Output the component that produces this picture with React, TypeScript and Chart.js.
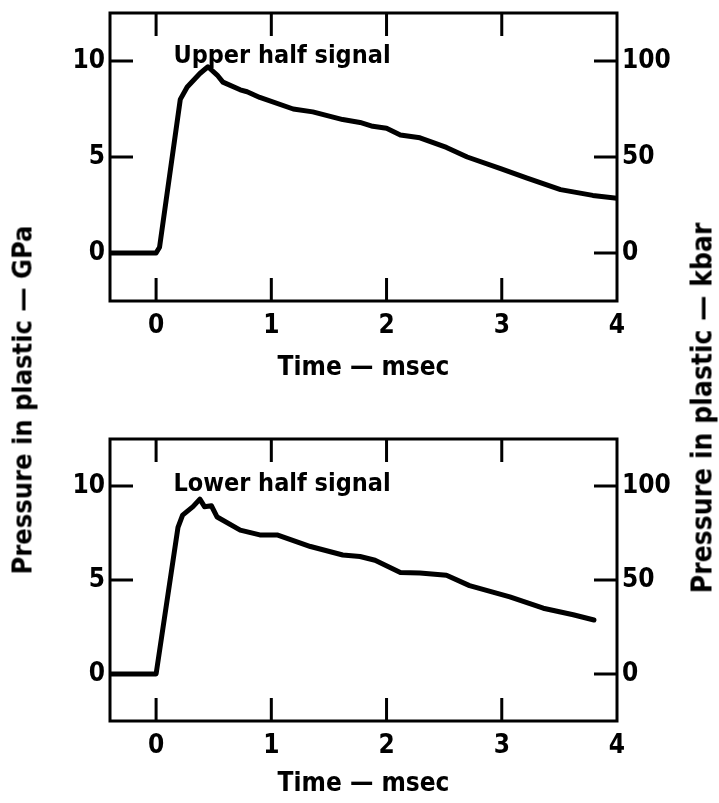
import React, { useEffect, useRef } from 'react';
import { Chart, registerables } from 'chart.js';

Chart.register(...registerables);

// ---- data ----
const upperTime = [-0.4, 0, 0.03, 0.21, 0.27, 0.38, 0.45, 0.53, 0.58, 0.73, 0.79, 0.9, 1.19, 1.36, 1.62, 1.77, 1.88, 2.0, 2.12, 2.29, 2.52, 2.7, 2.99, 3.22, 3.51, 3.79, 4.0];
const upperGPa = [0, 0, 0.3, 8.0, 8.65, 9.35, 9.7, 9.27, 8.9, 8.5, 8.4, 8.1, 7.5, 7.35, 6.95, 6.8, 6.6, 6.5, 6.15, 6.0, 5.5, 5.0, 4.4, 3.9, 3.3, 3.0, 2.85];

const lowerTime = [-0.4, 0, 0.19, 0.23, 0.32, 0.38, 0.42, 0.48, 0.53, 0.73, 0.9, 1.05, 1.34, 1.62, 1.77, 1.9, 2.12, 2.29, 2.52, 2.72, 3.07, 3.36, 3.62, 3.8];
const lowerGPa = [0, 0, 7.8, 8.45, 8.9, 9.3, 8.9, 8.95, 8.35, 7.65, 7.4, 7.4, 6.78, 6.33, 6.25, 6.05, 5.4, 5.37, 5.25, 4.7, 4.1, 3.5, 3.15, 2.87];

const timeTicks = [0, 1, 2, 3, 4];
const gpaTicks = [0, 5, 10];
const kbarTicks = [0, 50, 100];

const upperLabel = 'Upper half signal';
const lowerLabel = 'Lower half signal';
const xTitle = 'Time — msec';
const leftTitle = 'Pressure in plastic — GPa';
const rightTitle = 'Pressure in plastic — kbar';

const FONT = "'Liberation Sans Narrow', 'DejaVu Sans Condensed', 'DejaVu Sans', sans-serif";

const framePlugin = {
  id: 'frameTicks',
  afterDraw(chart: any, _args: any, opts: any) {
    const { ctx, chartArea: a, scales } = chart;
    const x = scales.x, y = scales.y, y2 = scales.y2;
    ctx.save();
    ctx.strokeStyle = '#000';
    ctx.lineWidth = 3;
    ctx.strokeRect(a.left, a.top, a.right - a.left, a.bottom - a.top);
    const L = 23;
    ctx.beginPath();
    timeTicks.forEach((t) => {
      if (t >= x.max) return;
      const px = x.getPixelForValue(t);
      ctx.moveTo(px, a.bottom);
      ctx.lineTo(px, a.bottom - L);
      ctx.moveTo(px, a.top);
      ctx.lineTo(px, a.top + L);
    });
    gpaTicks.forEach((v) => {
      const py = y.getPixelForValue(v);
      ctx.moveTo(a.left, py);
      ctx.lineTo(a.left + L, py);
    });
    kbarTicks.forEach((v) => {
      const py = y2.getPixelForValue(v);
      ctx.moveTo(a.right, py);
      ctx.lineTo(a.right - L, py);
    });
    ctx.stroke();
    ctx.font = `bold ${opts.size}px ${FONT}`;
    ctx.fillStyle = '#000';
    ctx.textBaseline = 'alphabetic';
    ctx.textAlign = 'left';
    ctx.fillText(opts.text, x.getPixelForValue(opts.at[0]), y.getPixelForValue(opts.at[1]));
    ctx.restore();
  },
};

function makeConfig(time: number[], gpa: number[], label: string, labelAt: number[], padTop: number, xHeight: number, titlePad: number) {
  const tickFont = { size: 26, weight: 'bold' as const, family: FONT };
  const fitY = (w: number) => (s: any) => {
    s.width = w;
    s.paddingTop = 0;
    s.paddingBottom = 0;
  };
  return {
    type: 'line' as const,
    data: {
      datasets: [
        {
          data: time.map((t, i) => ({ x: t, y: gpa[i] })),
          borderColor: '#000',
          borderWidth: 5,
          pointRadius: 0,
          tension: 0,
          borderJoinStyle: 'round' as const,
          borderCapStyle: 'round' as const,
          xAxisID: 'x',
          yAxisID: 'y',
        },
      ],
    },
    options: {
      responsive: false,
      animation: false as const,
      layout: { padding: { top: padTop, left: 0, right: 0, bottom: 0 } },
      plugins: {
        legend: { display: false },
        tooltip: { enabled: false },
        frameTicks: { text: label, at: labelAt, size: 25 },
      },
      scales: {
        x: {
          type: 'linear' as const,
          position: 'bottom' as const,
          min: -0.4,
          max: 4,
          grid: { display: false, drawTicks: false },
          border: { display: false },
          afterBuildTicks: (s: any) => { s.ticks = timeTicks.map((v) => ({ value: v })); },
          afterFit: (s: any) => { s.height = xHeight; s.paddingLeft = 0; s.paddingRight = 0; },
          ticks: { padding: 10, color: '#000', font: tickFont, maxRotation: 0, autoSkip: false },
          title: { display: true, text: xTitle, color: '#000', font: { size: 26, weight: 'bold' as const, family: FONT }, padding: { top: 0, bottom: titlePad } },
        },
        y: {
          type: 'linear' as const,
          position: 'left' as const,
          min: -2.5,
          max: 12.5,
          grid: { display: false, drawTicks: false },
          border: { display: false },
          afterBuildTicks: (s: any) => { s.ticks = gpaTicks.map((v) => ({ value: v })); },
          afterFit: fitY(110),
          ticks: { padding: 5, color: '#000', font: tickFont },
        },
        y2: {
          type: 'linear' as const,
          position: 'right' as const,
          display: true,
          min: -25,
          max: 125,
          grid: { display: false, drawTicks: false },
          border: { display: false },
          afterBuildTicks: (s: any) => { s.ticks = kbarTicks.map((v) => ({ value: v })); },
          afterFit: fitY(102),
          ticks: { padding: 5, color: '#000', font: tickFont },
        },
      },
    },
    plugins: [framePlugin],
  };
}

function Panel({ top, height, cfg }: { top: number; height: number; cfg: any }) {
  const ref = useRef<HTMLCanvasElement | null>(null);
  useEffect(() => {
    if (!ref.current) return;
    const chart = new Chart(ref.current, cfg);
    return () => chart.destroy();
  }, []);
  return (
    <canvas
      ref={ref}
      width={719}
      height={height}
      style={{ position: 'absolute', left: 0, top, width: 719, height }}
    />
  );
}

export default function App() {
  const upperCfg = makeConfig(upperTime, upperGPa, upperLabel, [0.15, 9.9], 13, 99, 16.4);
  const lowerCfg = makeConfig(lowerTime, lowerGPa, lowerLabel, [0.15, 9.73], 39, 82, 3.4);
  const titleStyle: React.CSSProperties = {
    position: 'absolute',
    transform: 'translate(-50%, -50%) rotate(-90deg)',
    whiteSpace: 'nowrap',
    fontFamily: FONT,
    fontWeight: 'bold',
    color: '#000',
  };
  return (
    <div style={{ position: 'absolute', left: 0, top: 0, width: 719, height: 803, background: '#fff', overflow: 'hidden' }}>
      <Panel top={0} height={400} cfg={upperCfg} />
      <Panel top={400} height={403} cfg={lowerCfg} />
      <div style={{ ...titleStyle, left: 22, top: 400, fontSize: 27 }}>{leftTitle}</div>
      <div style={{ ...titleStyle, left: 702, top: 408, fontSize: 28 }}>{rightTitle}</div>
    </div>
  );
}
